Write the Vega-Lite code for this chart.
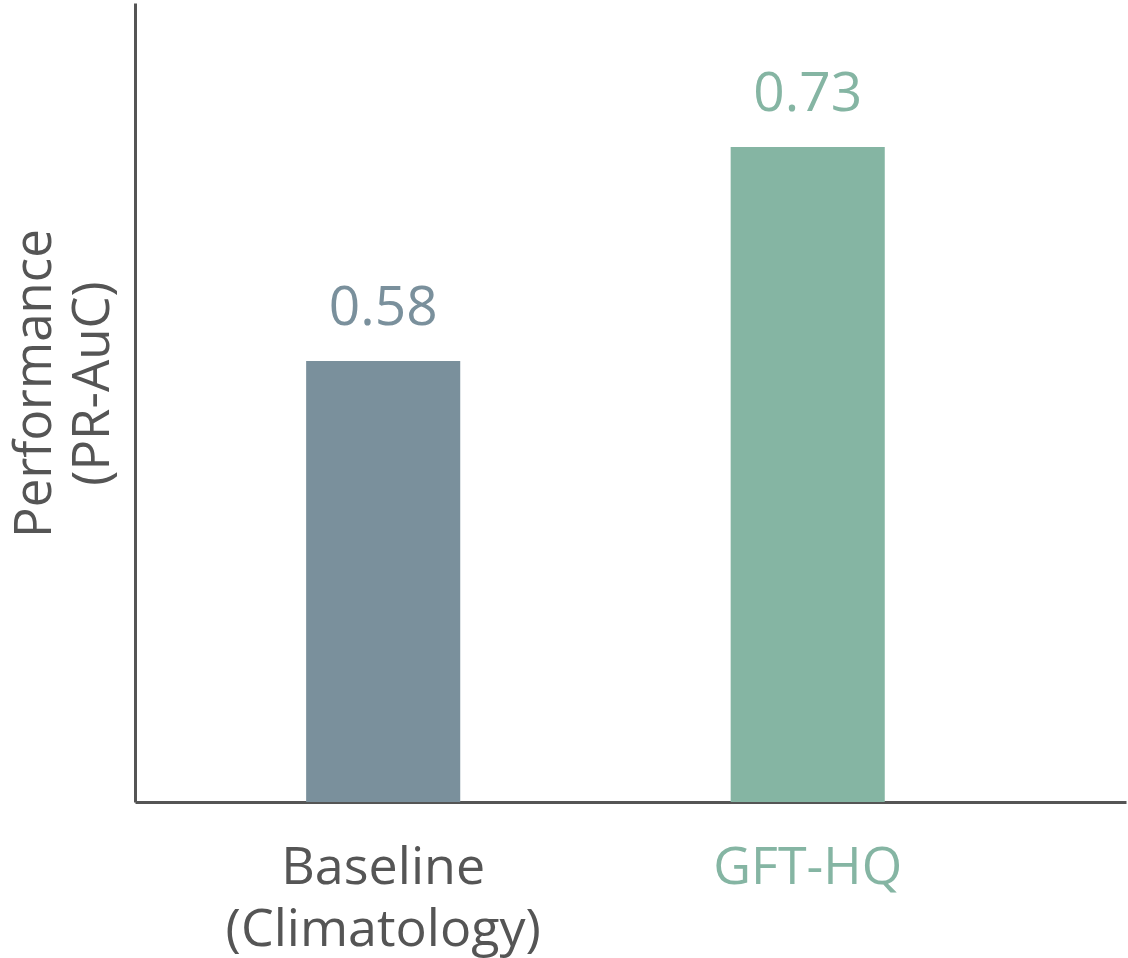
{
  "$schema": "https://vega.github.io/schema/vega-lite/v6.json",
  "width": 991,
  "height": 799,
  "autosize": {"type": "none"},
  "padding": {"left": 135, "top": 3, "right": 2, "bottom": 156},
  "background": "white",
  "config": {
    "view": {"stroke": null},
    "font": "Open Sans"
  },
  "data": {
    "values": [
      {"model": "Baseline (Climatology)", "pr_auc": 0.58},
      {"model": "GFT-HQ", "pr_auc": 0.73}
    ]
  },
  "encoding": {
    "x": {
      "field": "model",
      "type": "nominal",
      "sort": null,
      "scale": {"paddingInner": 0.637, "paddingOuter": 0.4857, "align": 0.415},
      "axis": {
        "title": null,
        "labelAngle": 0,
        "ticks": false,
        "domainColor": "#555555",
        "domainWidth": 3,
        "labelFontSize": 52,
        "labelLineHeight": 62,
        "labelPadding": 40,
        "labelLimit": 0,
        "labelOverlap": false,
        "labelFont": "Open Sans",
        "labelColor": {"condition": {"test": "datum.value === 'GFT-HQ'", "value": "#85b5a3"}, "value": "#555555"},
        "labelExpr": "datum.value === 'Baseline (Climatology)' ? ['Baseline', '(Climatology)'] : datum.value"
      }
    },
    "y": {
      "field": "pr_auc",
      "type": "quantitative",
      "scale": {"domain": [0.271, 0.831], "zero": false, "nice": false},
      "axis": {
        "title": ["Performance", "(PR-AuC)"],
        "labels": false,
        "ticks": false,
        "grid": false,
        "domainColor": "#555555",
        "domainWidth": 3,
        "titleFontSize": 51,
        "titleFontWeight": "normal",
        "titleColor": "#555555",
        "titleLineHeight": 58,
        "titlePadding": 16,
        "titleY": 380,
        "titleFont": "Open Sans"
      }
    },
    "color": {
      "field": "model",
      "type": "nominal",
      "scale": {"domain": ["Baseline (Climatology)", "GFT-HQ"], "range": ["#7a909c", "#85b5a3"]},
      "legend": null
    }
  },
  "layer": [
    {"mark": {"type": "bar", "clip": true}},
    {
      "mark": {"type": "text", "baseline": "alphabetic", "dy": -36, "fontSize": 55, "font": "Open Sans"},
      "encoding": {
        "text": {"field": "pr_auc", "type": "quantitative", "format": ".2f"}
      }
    }
  ]
}
